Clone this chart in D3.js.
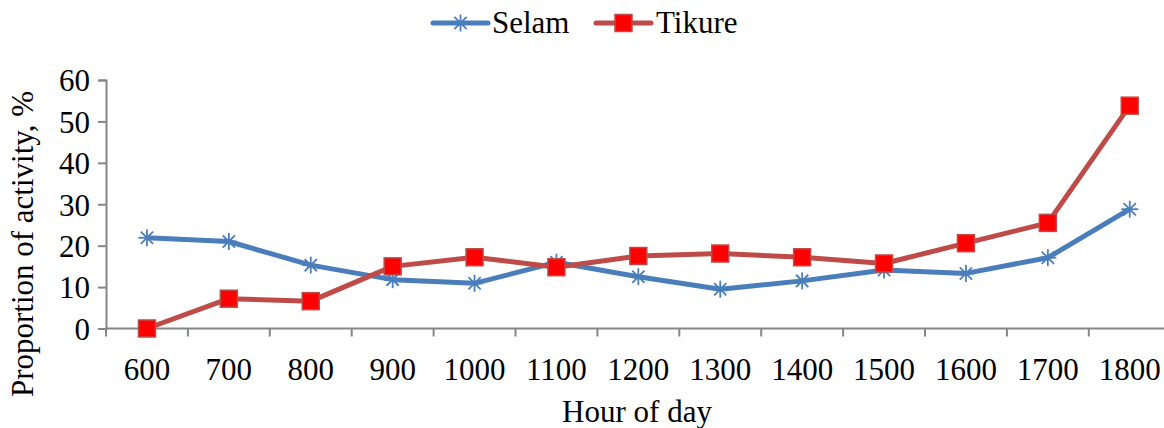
<!DOCTYPE html>
<html>
<head>
<meta charset="utf-8">
<script src="https://cdn.jsdelivr.net/npm/d3@7"></script>
<style>
  html, body { margin: 0; padding: 0; background: #fff; }
  svg { display: block; }
  svg text { font-family: "Liberation Serif", "Times New Roman", "DejaVu Serif", serif; fill: #000; }
</style>
</head>
<body>
<svg id="chart" width="1164" height="428"></svg>
<script>
// Hour of day categories
const hours = ["600", "700", "800", "900", "1000", "1100", "1200", "1300", "1400", "1500", "1600", "1700", "1800"];
// Proportion of activity (%) per site
const selam  = [21.9, 21.0, 15.3, 11.8, 10.9, 16.0, 12.5, 9.5, 11.5, 14.1, 13.3, 17.1, 28.8];
const tikure = [0.0, 7.2, 6.6, 15.0, 17.2, 14.8, 17.5, 18.1, 17.2, 15.7, 20.6, 25.5, 53.8];
const yTicks = [0, 10, 20, 30, 40, 50, 60];

const series = [
  { name: "Selam",  values: selam,  line: "#4A7EBB", marker: "star" },
  { name: "Tikure", values: tikure, line: "#BE4B48", marker: "square" }
];

const FONT = "Liberation Serif, Times New Roman, DejaVu Serif, serif";
const FS = "31px";
const svg = d3.select("#chart");
const W = 1164;

const x = d3.scaleBand().domain(hours).range([106, 106 + 81.9 * 13]).padding(0);
const y = d3.scaleLinear().domain([0, 60]).range([328.5, 80]);

const axisColor = "#868686";

// Y axis
const yAxis = svg.append("g").attr("transform", "translate(106,0)")
  .call(d3.axisLeft(y).tickValues(yTicks).tickSize(8).tickPadding(8));
yAxis.attr("font-family", FONT).attr("font-size", 31);
yAxis.select(".domain").attr("stroke", axisColor).attr("stroke-width", 2);
yAxis.selectAll(".tick line").attr("stroke", axisColor).attr("stroke-width", 2);
yAxis.selectAll(".tick text").attr("fill", "#000").attr("dy", "0.35em");

// X axis line spanning to the right edge
svg.append("line").attr("x1", 106).attr("x2", W).attr("y1", y(0)).attr("y2", y(0))
  .attr("stroke", axisColor).attr("stroke-width", 2);

// X tick marks at band boundaries
const boundaries = hours.map(h => x(h)).concat([x(hours[hours.length - 1]) + x.bandwidth()]);
svg.append("g").selectAll("line").data(boundaries).join("line")
  .attr("x1", d => d).attr("x2", d => d)
  .attr("y1", y(0)).attr("y2", y(0) + 8)
  .attr("stroke", axisColor).attr("stroke-width", 2);

// X tick labels
svg.append("g").selectAll("text").data(hours).join("text")
  .attr("x", d => x(d) + x.bandwidth() / 2)
  .attr("y", 380)
  .attr("text-anchor", "middle")
  .attr("font-family", FONT).style("font-size", FS)
  .text(d => d);

// Axis titles
svg.append("text").attr("x", 637).attr("y", 422).attr("text-anchor", "middle")
  .attr("font-family", FONT).style("font-size", FS).text("Hour of day");
svg.append("text")
  .attr("transform", "translate(33,244) rotate(-90)")
  .attr("text-anchor", "middle")
  .attr("font-family", FONT).style("font-size", FS).text("Proportion of activity, %");

const cx = (d, i) => x(hours[i]) + x.bandwidth() / 2;

function drawMarker(g, type, color) {
  if (type === "square") {
    g.append("rect").attr("x", -8.5).attr("y", -8.5).attr("width", 17).attr("height", 17)
      .attr("fill", "#FF0000").attr("stroke", color).attr("stroke-width", 1.5);
  } else {
    const r = 8.5;
    const p = [[-r, 0, r, 0], [0, -r, 0, r], [-r * 0.72, -r * 0.72, r * 0.72, r * 0.72], [-r * 0.72, r * 0.72, r * 0.72, -r * 0.72]];
    p.forEach(s => g.append("line").attr("x1", s[0]).attr("y1", s[1]).attr("x2", s[2]).attr("y2", s[3])
      .attr("stroke", color).attr("stroke-width", 1.8));
  }
}

// Lines and markers
series.forEach(s => {
  const line = d3.line().x((d, i) => cx(d, i)).y(d => y(d));
  svg.append("path").datum(s.values).attr("d", line)
    .attr("fill", "none").attr("stroke", s.line).attr("stroke-width", 5)
    .attr("stroke-linejoin", "round");
  s.values.forEach((v, i) => {
    const g = svg.append("g").attr("transform", `translate(${cx(v, i)},${y(v)})`);
    drawMarker(g, s.marker, s.line);
  });
});

// Legend
const legendItems = [
  { s: series[0], x0: 433, tx: 492 },
  { s: series[1], x0: 596, tx: 656 }
];
legendItems.forEach(li => {
  svg.append("line").attr("x1", li.x0).attr("x2", li.x0 + 55).attr("y1", 23).attr("y2", 23)
    .attr("stroke", li.s.line).attr("stroke-width", 5).attr("stroke-linecap", "round");
  const g = svg.append("g").attr("transform", `translate(${li.x0 + 27.5},23)`);
  drawMarker(g, li.s.marker, li.s.line);
  svg.append("text").attr("x", li.tx).attr("y", 33)
    .attr("font-family", FONT).style("font-size", FS).text(li.s.name);
});
</script>
</body>
</html>
